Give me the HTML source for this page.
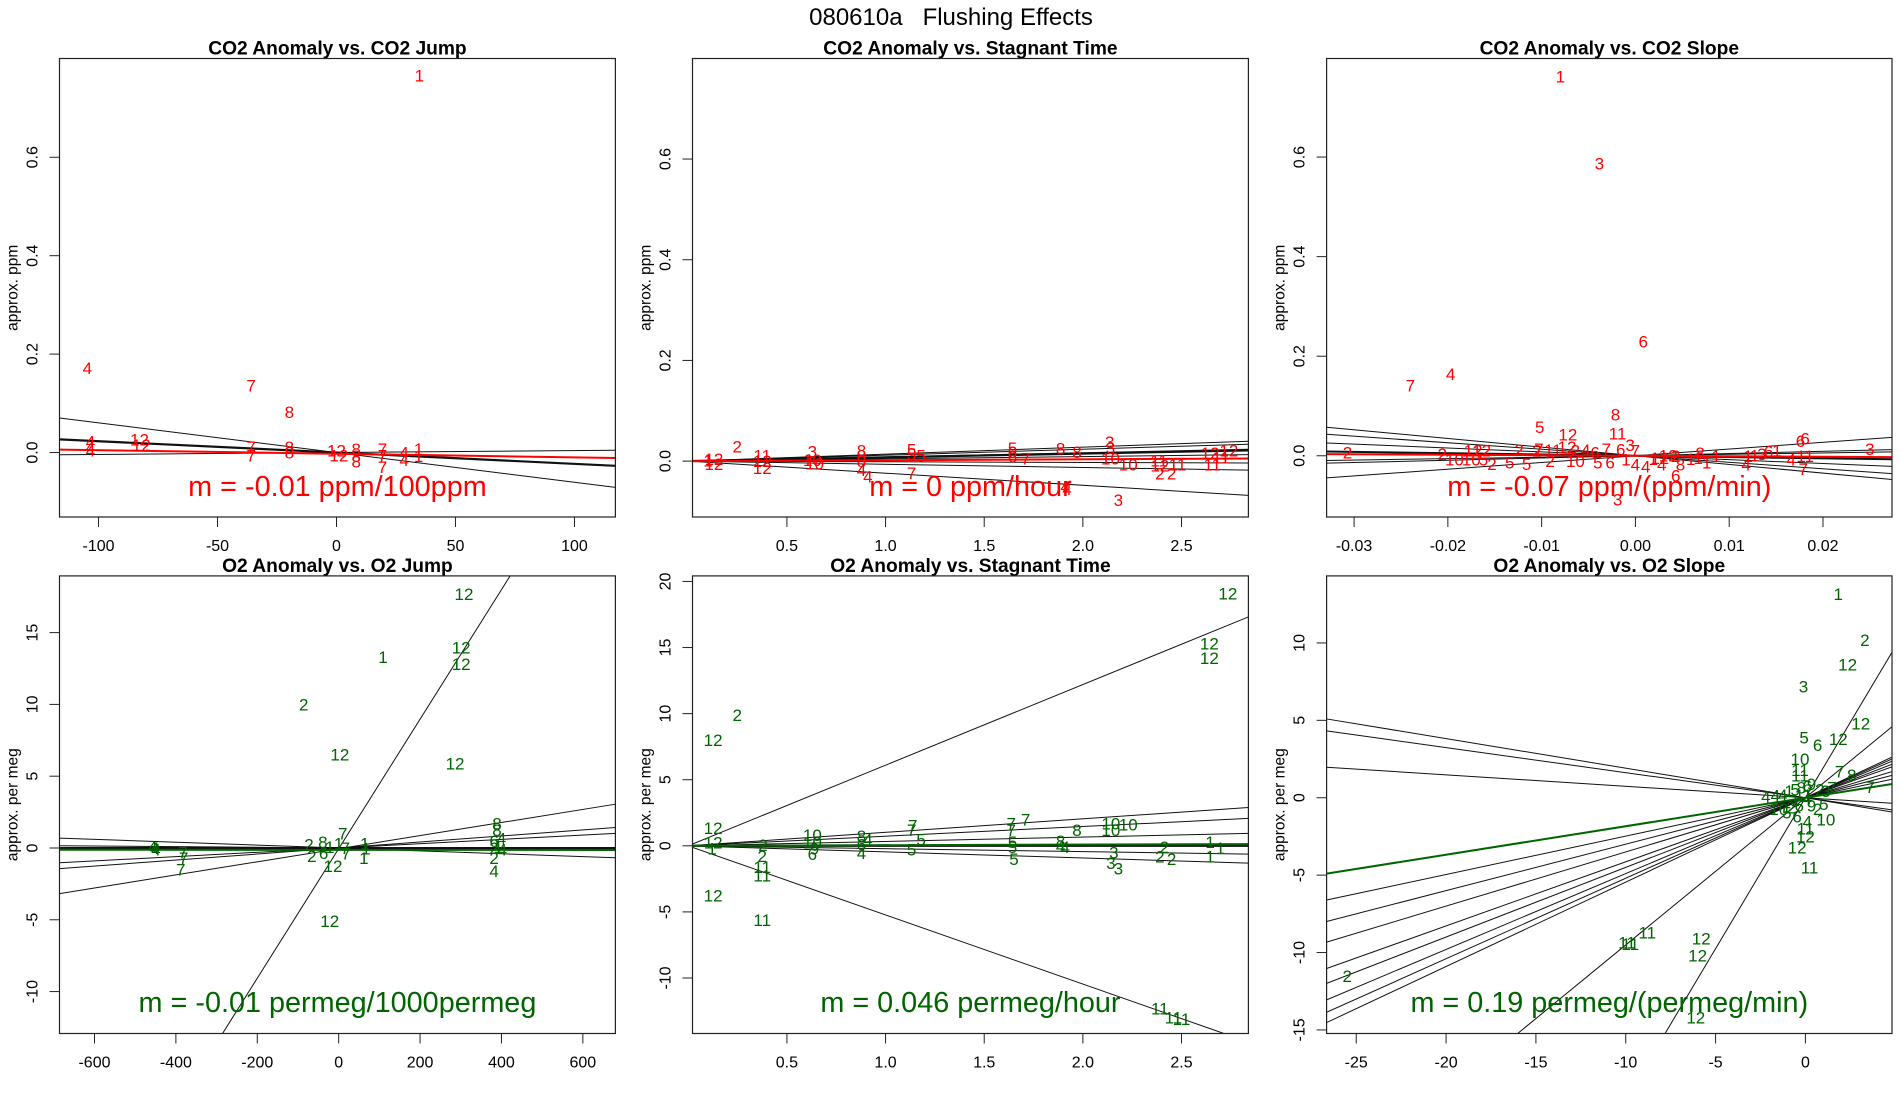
<!DOCTYPE html>
<html><head><meta charset="utf-8"><style>
html,body{margin:0;padding:0;background:#fff;width:1900px;height:1100px;overflow:hidden;}
svg{display:block;font-family:"Liberation Sans",Arial,sans-serif;}
</style></head><body>
<svg id="fig" width="1900" height="1100" viewBox="0 0 1900 1100" xmlns="http://www.w3.org/2000/svg">
<rect width="1900" height="1100" fill="#fff"/>
<text x="951" y="25" font-size="24" text-anchor="middle" fill="#000" style="white-space:pre" xml:space="preserve">080610a   Flushing Effects</text>
</svg>
<script>
// ---------- Panel 1: CO2 Anomaly vs CO2 Jump ----------
const p1X = [34.8,-104.7,-35.9,-19.8,-103.4,-103.4,-103.4,-82.8,-82,-35.9,-35.9,-19.8,-19.8,0,1,8.3,8.3,8.3,19.3,19.3,19.3,28.4,28.4,34.5,34.5];
const p1Y = [0.766,0.172,0.136,0.082,0.022,0.011,0.004,0.026,0.015,0.011,-0.006,0.011,0,0.004,-0.006,0.007,-0.007,-0.018,0.007,-0.006,-0.029,0,-0.015,0.007,-0.007];
const p1Lab = ["1","4","7","8","4","4","4","12","12","7","7","8","8","12","12","8","8","8","7","7","7","4","4","1","1"];
const p1Slopes = [-0.000604,-0.00023,0.0000386];
const p1Ints = [0,0,0];
const p1LineW = [1,2.2,1];
const p1FitSlope = [-0.000073];
const p1FitInt = [-0.0025];
const p1XTicks = [-100,-50,0,50,100];
const p1XTickLab = ["-100","-50","0","50","100"];
const p1YTicks = [0,0.2,0.4,0.6];
const p1YTickLab = ["0.0","0.2","0.4","0.6"];

// ---------- Panel 2: CO2 Anomaly vs Stagnant Time ----------
const p2X = [0.248,0.13,0.13,0.1,0.375,0.375,0.375,0.629,0.629,0.64,0.878,0.878,0.878,0.878,0.91,1.132,1.132,1.18,1.132,1.643,1.643,1.643,1.71,1.887,1.97,1.91,1.92,2.136,2.14,2.14,2.23,2.18,2.386,2.39,2.48,2.39,2.45,2.645,2.74,2.656,2.7];
const p2Y = [0.029,0.004,-0.006,0.001,0.011,0,-0.014,0.019,0.002,-0.005,0.021,0.011,0,-0.018,-0.031,0.023,0.014,0.011,-0.024,0.026,0.018,0.009,0.005,0.025,0.018,-0.05,-0.055,0.038,0.026,0.005,-0.007,-0.077,0.001,-0.009,-0.007,-0.025,-0.025,0.016,0.021,-0.007,0.007];
const p2Lab = ["2","12","12","1","11","12","12","3","10","10","8","8","8","4","4","5","5","5","7","5","6","6","7","8","8","4","4","3","3","10","10","3","11","12","11","2","2","12","12","11","11"];
const p2Slopes = [0.0139,0.0118,0.0083,0.0075,-0.0013,-0.0063,-0.024,0.0045];
const p2Ints = [0,0,0,0,0,0,0,0];
const p2LineW = [1,1,1,2.2,1,1,1,1];
const p2FitSlope = [0.0018];
const p2FitInt = [0];
const p2XTicks = [0.5,1,1.5,2,2.5];
const p2XTickLab = ["0.5","1.0","1.5","2.0","2.5"];
const p2YTicks = [0,0.2,0.4,0.6];
const p2YTickLab = ["0.0","0.2","0.4","0.6"];

// ---------- Panel 3: CO2 Anomaly vs CO2 Slope ----------
const p3X = [-0.008,-0.00384,0.00084,-0.0197,-0.024,-0.00213,-0.0102,-0.0072,-0.0019,-0.00056,-0.00156,-0.0031,0,-0.0307,-0.0206,-0.0193,-0.0175,-0.0173,-0.0164,-0.0162,-0.0153,-0.0134,-0.0116,-0.0124,-0.0105,-0.0103,-0.0091,-0.0088,-0.0073,-0.0064,-0.0064,-0.0053,-0.0043,-0.004,-0.0027,-0.001,0,0.0011,0.0019,0.0026,0.0035,0.0028,0.0048,0.0043,0.0059,0.0067,0.0069,0.0076,0.0086,0.012,0.0118,0.0127,0.0135,0.0142,0.0151,0.0176,0.0181,0.0166,0.0181,0.0179,0.0043,-0.0019,0.025];
const p3Y = [0.762,0.587,0.23,0.164,0.141,0.083,0.058,0.043,0.045,0.022,0.013,0.014,0.011,0.007,0.004,-0.007,-0.007,0.011,0.011,-0.007,-0.017,-0.014,-0.017,0.012,0.011,0.014,-0.011,0.012,0.018,0.011,-0.011,0.012,0.007,-0.014,-0.014,-0.007,-0.018,-0.022,-0.006,-0.004,0.001,-0.018,-0.018,0,-0.006,-0.004,0.006,-0.014,0,0,-0.018,0.001,0.004,0.009,0.011,0.03,0.035,-0.007,0,-0.027,-0.04,-0.088,0.014];
const p3Lab = ["1","3","6","4","7","8","5","12","11","3","6","7","7","2","2","10","10","12","12","5","2","5","5","2","2","7","2","11","12","2","10","4","6","5","6","1","4","4","1","12","12","4","8","2","1","1","8","1","1","1","4","1","3","6","1","6","6","4","11","7","6","3","3"];
const p3Slopes = [-1.74,-1.31,-0.78,-0.26,-0.1,0.29,0.45,1.35];
const p3Ints = [0,0,0,0,0,0,0,0];
const p3LineW = [1,1,1,2,1,1,1,1];
const p3FitSlope = [-0.1];
const p3FitInt = [0.0];
const p3XTicks = [-0.03,-0.02,-0.01,0,0.01,0.02];
const p3XTickLab = ["-0.03","-0.02","-0.01","0.00","0.01","0.02"];
const p3YTicks = [0,0.2,0.4,0.6];
const p3YTickLab = ["0.0","0.2","0.4","0.6"];

// ---------- Panel 4: O2 Anomaly vs O2 Jump ----------
const p4X = [308,301,301,109,-86,3,286,-22,-457,-452,-449,-383,-381,-388,-73,-39,-66,-37,-22,-14,10,0,16,18,64,67,62,389,389,382,400,382,402,382,382,392];
const p4Y = [17.7,13.95,12.8,13.3,10,6.5,5.9,-5.1,0.07,0,-0.1,-0.3,-0.68,-1.5,0.25,0.4,-0.55,-0.35,0.08,-1.25,1.0,0.3,0,-0.4,0.32,-0.05,-0.7,1.7,1.25,0.5,0.65,0,-0.1,-0.68,-1.6,0.08];
const p4Lab = ["12","12","12","1","2","12","12","12","4","4","4","7","7","7","2","8","2","6","1","12","7","1","7","7","1","1","1","8","8","6","4","2","4","2","4","1"];
const p4Slopes = [0.0451,0.00456,0.0021,0.0015,-0.001,-0.00023,0];
const p4Ints = [-0.05,-0.05,0,0,0,0,0];
const p4LineW = [1,1,1,1,1,1,2];
const p4FitSlope = [-0.00001];
const p4FitInt = [-0.13];
const p4XTicks = [-600,-400,-200,0,200,400,600];
const p4XTickLab = ["-600","-400","-200","0","200","400","600"];
const p4YTicks = [-10,-5,0,5,10,15];
const p4YTickLab = ["-10","-5","0","5","10","15"];

// ---------- Panel 5: O2 Anomaly vs Stagnant Time ----------
const p5X = [2.735,2.641,2.641,0.248,0.126,0.126,0.126,0.12,0.126,0.375,0.375,0.375,0.379,0.375,0.629,0.629,0.629,0.64,0.878,0.91,0.878,0.878,1.138,1.132,1.18,1.132,1.637,1.71,1.637,1.643,1.643,1.651,1.887,1.91,1.97,1.887,2.142,2.23,2.142,2.157,2.142,2.18,2.413,2.39,2.45,2.645,2.697,2.645,2.39,2.459,2.5];
const p5Y = [19.1,15.3,14.2,9.9,8.0,1.33,0.24,-0.22,-3.75,-5.6,-1.6,-2.25,0.05,-0.76,0.8,0.25,-0.62,-0.2,0.73,0.46,0.1,-0.54,1.55,1.2,0.46,-0.27,1.68,2.0,1.2,0.27,-0.08,-0.98,0.38,-0.08,1.2,0,1.68,1.63,1.2,-0.49,-1.3,-1.71,-0.08,-0.8,-0.98,0.27,-0.16,-0.8,-12.3,-13,-13.1];
const p5Lab = ["12","12","12","2","12","12","12","1","12","11","11","11","2","2","10","10","6","9","8","4","6","4","7","7","5","5","7","7","7","5","5","5","8","4","8","4","10","10","10","3","3","3","2","2","2","1","1","1","11","11","11"];
const p5Slopes = [6.1,1.02,0.73,0.33,-0.22,-0.46,-5.23,0.0];
const p5Ints = [0,0,0,0,0,0,0,0];
const p5LineW = [1,1,1,1,1,1,1,2.2];
const p5FitSlope = [0.046];
const p5FitInt = [0];
const p5XTicks = [0.5,1,1.5,2,2.5];
const p5XTickLab = ["0.5","1.0","1.5","2.0","2.5"];
const p5YTicks = [-10,-5,0,5,10,15,20];
const p5YTickLab = ["-10","-5","0","5","10","15","20"];

// ---------- Panel 6: O2 Anomaly vs O2 Slope ----------
const p6X = [1.83,3.31,2.35,-0.11,3.08,-0.07,0.68,1.83,-0.3,-0.3,-0.3,1.9,2.58,3.6,-2.2,-1.67,-1.26,-0.91,-0.57,-0.23,0.11,0.34,0.8,1.14,1.48,-0.57,-0.8,-0.34,0.34,1.03,-1.48,-1.03,-0.46,0.68,-0.11,0.11,1.14,0.11,0,0,-0.46,0.23,-25.5,-9.93,-9.75,-8.8,-5.8,-6.0,-6.1];
const p6Y = [13.15,10.2,8.6,7.2,4.8,3.9,3.4,3.8,2.5,1.8,1.45,1.7,1.46,0.7,0.07,0.14,0.19,0.42,0.53,0.65,0.76,0.88,0.53,0.42,0.65,-0.16,-0.63,-0.51,-0.51,-0.39,-0.74,-0.97,-1.2,-0.74,0.19,-0.05,-1.4,-1.55,-2.0,-2.5,-3.2,-4.5,-11.5,-9.35,-9.45,-8.7,-9.1,-10.2,-14.2];
const p6Lab = ["1","2","12","3","12","5","6","12","10","11","11","7","8","7","4","4","4","1","5","8","6","9","2","3","7","1","2","6","9","5","10","5","6","2","11","4","10","4","11","12","12","11","2","11","11","11","12","12","12"];
const p6Slopes = [-0.191,-0.162,-0.074,0.248,0.30,0.414,0.45,0.49,0.545,0.951,1.95,0.35,0.52];
const p6Ints = [0,0,0,0,0,0,0,0,0,0,0,0,0];
const p6LineW = [1,1,1,1,1,1,1,1,1,1,1,1,1];
const p6FitSlope = [0.184];
const p6FitInt = [0];
const p6XTicks = [-25,-20,-15,-10,-5,0];
const p6XTickLab = ["-25","-20","-15","-10","-5","0"];
const p6YTicks = [-15,-10,-5,0,5,10];
const p6YTickLab = ["-15","-10","-5","0","5","10"];

const NS = "http://www.w3.org/2000/svg";
const svg = document.getElementById("fig");
function mk(tag, attrs, parent) {
  const e = document.createElementNS(NS, tag);
  for (const k in attrs) e.setAttribute(k, attrs[k]);
  (parent || svg).appendChild(e);
  return e;
}

const panels = [
  {id:"co2-jump", title:"CO2 Anomaly vs. CO2 Jump", ylab:"approx. ppm", m:"m = -0.01 ppm/100ppm", col:"#ff0000",
   box:[59.5,58.5,615.4,517], xr:[-116.4,117.2], yr:[-0.131,0.8007], mY:486,
   X:p1X,Y:p1Y,L:p1Lab,S:p1Slopes,I:p1Ints,W:p1LineW,FS:p1FitSlope,FI:p1FitInt,xt:p1XTicks,xtl:p1XTickLab,yt:p1YTicks,ytl:p1YTickLab},
  {id:"co2-stagnant", title:"CO2 Anomaly vs. Stagnant Time", ylab:"approx. ppm", m:"m = 0 ppm/hour", col:"#ff0000",
   box:[692.5,58.5,1248.4,517], xr:[0.0215,2.839], yr:[-0.111,0.7997], mY:486,
   X:p2X,Y:p2Y,L:p2Lab,S:p2Slopes,I:p2Ints,W:p2LineW,FS:p2FitSlope,FI:p2FitInt,xt:p2XTicks,xtl:p2XTickLab,yt:p2YTicks,ytl:p2YTickLab},
  {id:"co2-slope", title:"CO2 Anomaly vs. CO2 Slope", ylab:"approx. ppm", m:"m = -0.07 ppm/(ppm/min)", col:"#ff0000",
   box:[1326.6,58.5,1892,517], xr:[-0.03293,0.02736], yr:[-0.123,0.798], mY:486,
   X:p3X,Y:p3Y,L:p3Lab,S:p3Slopes,I:p3Ints,W:p3LineW,FS:p3FitSlope,FI:p3FitInt,xt:p3XTicks,xtl:p3XTickLab,yt:p3YTicks,ytl:p3YTickLab},
  {id:"o2-jump", title:"O2 Anomaly vs. O2 Jump", ylab:"approx. per meg", m:"m = -0.01 permeg/1000permeg", col:"#006400",
   box:[59.5,575.9,615.4,1033.5], xr:[-686,680], yr:[-12.92,18.95], mY:1002,
   X:p4X,Y:p4Y,L:p4Lab,S:p4Slopes,I:p4Ints,W:p4LineW,FS:p4FitSlope,FI:p4FitInt,xt:p4XTicks,xtl:p4XTickLab,yt:p4YTicks,ytl:p4YTickLab},
  {id:"o2-stagnant", title:"O2 Anomaly vs. Stagnant Time", ylab:"approx. per meg", m:"m = 0.046 permeg/hour", col:"#006400",
   box:[692.5,575.9,1248.4,1033.5], xr:[0.0215,2.839], yr:[-14.2,20.42], mY:1002,
   X:p5X,Y:p5Y,L:p5Lab,S:p5Slopes,I:p5Ints,W:p5LineW,FS:p5FitSlope,FI:p5FitInt,xt:p5XTicks,xtl:p5XTickLab,yt:p5YTicks,ytl:p5YTickLab},
  {id:"o2-slope", title:"O2 Anomaly vs. O2 Slope", ylab:"approx. per meg", m:"m = 0.19 permeg/(permeg/min)", col:"#006400",
   box:[1326.6,575.9,1892,1033.5], xr:[-26.65,4.82], yr:[-15.23,14.33], mY:1002,
   X:p6X,Y:p6Y,L:p6Lab,S:p6Slopes,I:p6Ints,W:p6LineW,FS:p6FitSlope,FI:p6FitInt,xt:p6XTicks,xtl:p6XTickLab,yt:p6YTicks,ytl:p6YTickLab}
];

const defs = mk("defs", {});
panels.forEach((p, pi) => {
  const [x0,y0,x1,y1] = p.box;
  const sx = v => x0 + (v - p.xr[0]) / (p.xr[1] - p.xr[0]) * (x1 - x0);
  const sy = v => y1 - (v - p.yr[0]) / (p.yr[1] - p.yr[0]) * (y1 - y0);
  const g = mk("g", {});
  
  
  const cp = mk("clipPath", {id:"clip"+pi}, defs);
  mk("rect", {x:x0, y:y0, width:x1-x0, height:y1-y0}, cp);

  const t = mk("text", {x:(x0+x1)/2, y:y0-4, "font-size":19.2, "font-weight":"bold", "text-anchor":"middle", fill:"#000"}, g);
  t.textContent = p.title;
  
  

  const yl = mk("text", {x:0, y:0, "font-size":15.5, "text-anchor":"middle", fill:"#000",
    transform:`translate(${x0-42},${(y0+y1)/2}) rotate(-90)`}, g);
  yl.textContent = p.ylab;
  
  

  p.xt.forEach((v, i) => {
    const X = sx(v);
    const tk = mk("line", {x1:X, y1:y1, x2:X, y2:y1+10, stroke:"#222", "stroke-width":1}, g);
    
    
    const tl = mk("text", {x:X, y:y1+34, "font-size":16, "text-anchor":"middle", fill:"#000"}, g);
    tl.textContent = p.xtl[i];
    
    
  });
  p.yt.forEach((v, i) => {
    const Y = sy(v);
    const tk = mk("line", {x1:x0-10, y1:Y, x2:x0, y2:Y, stroke:"#222", "stroke-width":1}, g);
    
    
    const tl = mk("text", {x:0, y:0, "font-size":16, "text-anchor":"middle", fill:"#000",
      transform:`translate(${x0-22},${Y}) rotate(-90)`}, g);
    tl.textContent = p.ytl[i];
    
    
  });

  const inner = mk("g", {"clip-path":`url(#clip${pi})`}, g);
  p.S.forEach((s, i) => {
    const a = p.I[i];
    const ln = mk("line", {x1:sx(p.xr[0]), y1:sy(a + s*p.xr[0]), x2:sx(p.xr[1]), y2:sy(a + s*p.xr[1]),
      stroke:"#111", "stroke-width":p.W[i]}, inner);
    
    
  });
  p.X.forEach((xv, i) => {
    const tx = mk("text", {x:sx(xv), y:sy(p.Y[i]) + 6, "font-size":17, "text-anchor":"middle", fill:p.col}, inner);
    tx.textContent = p.L[i];
    
    
  });
  p.FS.forEach((s, i) => {
    const a = p.FI[i];
    const ln = mk("line", {x1:sx(p.xr[0]), y1:sy(a + s*p.xr[0]), x2:sx(p.xr[1]), y2:sy(a + s*p.xr[1]),
      stroke:p.col, "stroke-width":2}, inner);
    
    
  });
  const mt = mk("text", {x:(x0+x1)/2, y:p.mY + 10, "font-size":28.8, "text-anchor":"middle", fill:p.col}, g);
  mt.textContent = p.m;
  
  

  const bx = mk("rect", {x:x0, y:y0, width:x1-x0, height:y1-y0, fill:"none", stroke:"#222", "stroke-width":1.2}, g);
  
  
});
</script>
</body></html>
